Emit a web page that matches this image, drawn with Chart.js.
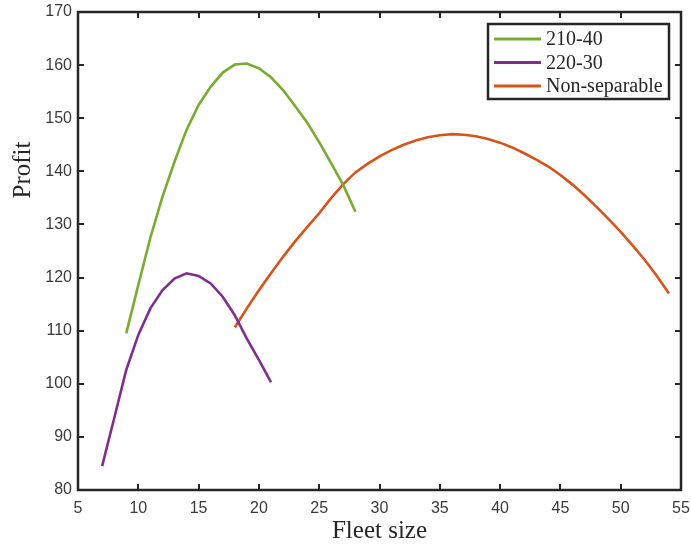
<!DOCTYPE html>
<html>
<head>
<meta charset="utf-8">
<script src="https://cdn.jsdelivr.net/npm/chart.js@4"></script>
<style>
  html, body { margin: 0; padding: 0; background: #fff; }
  #wrap { width: 691px; height: 548px; }
</style>
</head>
<body>
<div id="wrap"><canvas id="chart" width="691" height="548"></canvas></div>
<script>
// fleet size values per series
const fleetA = [9, 10, 11, 12, 13, 14, 15, 16, 17, 18, 19, 20, 21, 22, 23, 24, 25, 26, 27, 28];
const profitA = [109.5, 118.6, 127.5, 135.2, 141.8, 147.8, 152.5, 155.9, 158.6, 160.1,
  160.3, 159.4, 157.7, 155.3, 152.3, 149.2, 145.5, 141.5, 137.4, 132.4];

const fleetB = [7, 8, 9, 10, 11, 12, 13, 14, 15, 16, 17, 18, 19, 20, 21];
const profitB = [84.5, 93.5, 102.6, 109.2, 114.2, 117.6, 119.8, 120.8, 120.3, 118.9,
  116.4, 112.9, 108.5, 104.5, 100.3];

const fleetC = [18, 19, 20, 21, 22, 23, 24, 25, 26, 27, 28, 29, 30, 31, 32, 33, 34, 35, 36,
  37, 38, 39, 40, 41, 42, 43, 44, 45, 46, 47, 48, 49, 50, 51, 52, 53, 54];
const profitC = [110.6, 114.2, 117.6, 120.8, 123.9, 126.8, 129.5, 132.1, 135.0, 137.6,
  139.8, 141.4, 142.8, 144.0, 145.0, 145.8, 146.4, 146.8, 147.0, 146.9, 146.6, 146.1,
  145.4, 144.5, 143.4, 142.2, 140.9, 139.3, 137.5, 135.5, 133.3, 131.0, 128.6, 126.0,
  123.3, 120.3, 117.0];

const seriesNames = ["210-40", "220-30", "Non-separable"];
const seriesColors = ["#77AC30", "#7E2F8E", "#D95319"];

const xTicks = { min: 5, max: 55, step: 5 };
const yTicks = { min: 80, max: 170, step: 10 };

const toPoints = (xs, ys) => xs.map((v, i) => ({ x: v, y: ys[i] }));

const axisInk = "#262626";

// box, inward ticks, axis titles and legend, drawn the MATLAB way
const frame = {
  id: "frame",
  afterDraw(chart) {
    const { ctx, chartArea: a, scales } = chart;
    const x = scales.x, y = scales.y;
    ctx.save();
    ctx.strokeStyle = axisInk;
    ctx.lineWidth = 2;
    x.ticks.forEach(t => {
      const px = Math.round(x.getPixelForValue(t.value));
      ctx.beginPath();
      ctx.moveTo(px, a.bottom); ctx.lineTo(px, a.bottom - 6);
      ctx.moveTo(px, a.top); ctx.lineTo(px, a.top + 6);
      ctx.stroke();
    });
    y.ticks.forEach(t => {
      const py = Math.round(y.getPixelForValue(t.value));
      ctx.beginPath();
      ctx.moveTo(a.left, py); ctx.lineTo(a.left + 6, py);
      ctx.moveTo(a.right, py); ctx.lineTo(a.right - 6, py);
      ctx.stroke();
    });
    ctx.lineWidth = 2.5;
    ctx.strokeRect(a.left, a.top, a.right - a.left, a.bottom - a.top);

    // axis titles
    ctx.fillStyle = axisInk;
    ctx.font = "25px 'Liberation Serif', 'DejaVu Serif', serif";
    ctx.textAlign = "center";
    ctx.textBaseline = "middle";
    ctx.fillText("Fleet size", (a.left + a.right) / 2, 531);
    ctx.save();
    ctx.translate(23, 170);
    ctx.rotate(-Math.PI / 2);
    ctx.fillText("Profit", 0, 0);
    ctx.restore();

    // legend
    const lx = 488, ly = 24, lw = 181, lh = 75;
    ctx.fillStyle = "#fff";
    ctx.fillRect(lx, ly, lw, lh);
    ctx.lineWidth = 2.5;
    ctx.strokeStyle = axisInk;
    ctx.strokeRect(lx, ly, lw, lh);
    ctx.font = "20px 'Liberation Serif', 'DejaVu Serif', serif";
    ctx.textAlign = "left";
    chart.data.datasets.forEach((ds, i) => {
      const cy = 39 + i * 23.5;
      ctx.strokeStyle = ds.borderColor;
      ctx.lineWidth = 3;
      ctx.beginPath();
      ctx.moveTo(494, cy); ctx.lineTo(541, cy);
      ctx.stroke();
      ctx.fillStyle = axisInk;
      ctx.fillText(ds.label, 546, cy + 1);
    });
    ctx.restore();
  }
};

new Chart(document.getElementById("chart"), {
  type: "line",
  data: {
    datasets: [
      { label: seriesNames[0], data: toPoints(fleetA, profitA), borderColor: seriesColors[0] },
      { label: seriesNames[1], data: toPoints(fleetB, profitB), borderColor: seriesColors[1] },
      { label: seriesNames[2], data: toPoints(fleetC, profitC), borderColor: seriesColors[2] },
    ],
  },
  options: {
    responsive: false,
    animation: false,
    layout: { padding: { top: 12, right: 10, left: 0, bottom: 0 } },
    elements: {
      line: { borderWidth: 2.6, tension: 0, fill: false },
      point: { radius: 0 },
    },
    plugins: {
      legend: { display: false },
      tooltip: { enabled: false },
    },
    scales: {
      x: {
        type: "linear",
        min: xTicks.min,
        max: xTicks.max,
        ticks: {
          stepSize: xTicks.step,
          padding: 9,
          color: "#3a3a3a",
          font: { family: "'Liberation Sans', Arial, sans-serif", size: 16 },
          maxRotation: 0,
        },
        grid: { display: false, drawTicks: false },
        border: { display: false },
        afterFit: s => { s.height = 58; s.paddingLeft = 0; s.paddingRight = 0; },
      },
      y: {
        min: yTicks.min,
        max: yTicks.max,
        ticks: {
          stepSize: yTicks.step,
          padding: 6,
          color: "#3a3a3a",
          font: { family: "'Liberation Sans', Arial, sans-serif", size: 16 },
        },
        grid: { display: false, drawTicks: false },
        border: { display: false },
        afterFit: s => { s.width = 78; s.paddingTop = 0; s.paddingBottom = 0; },
      },
    },
  },
  plugins: [frame],
});
</script>
</body>
</html>
